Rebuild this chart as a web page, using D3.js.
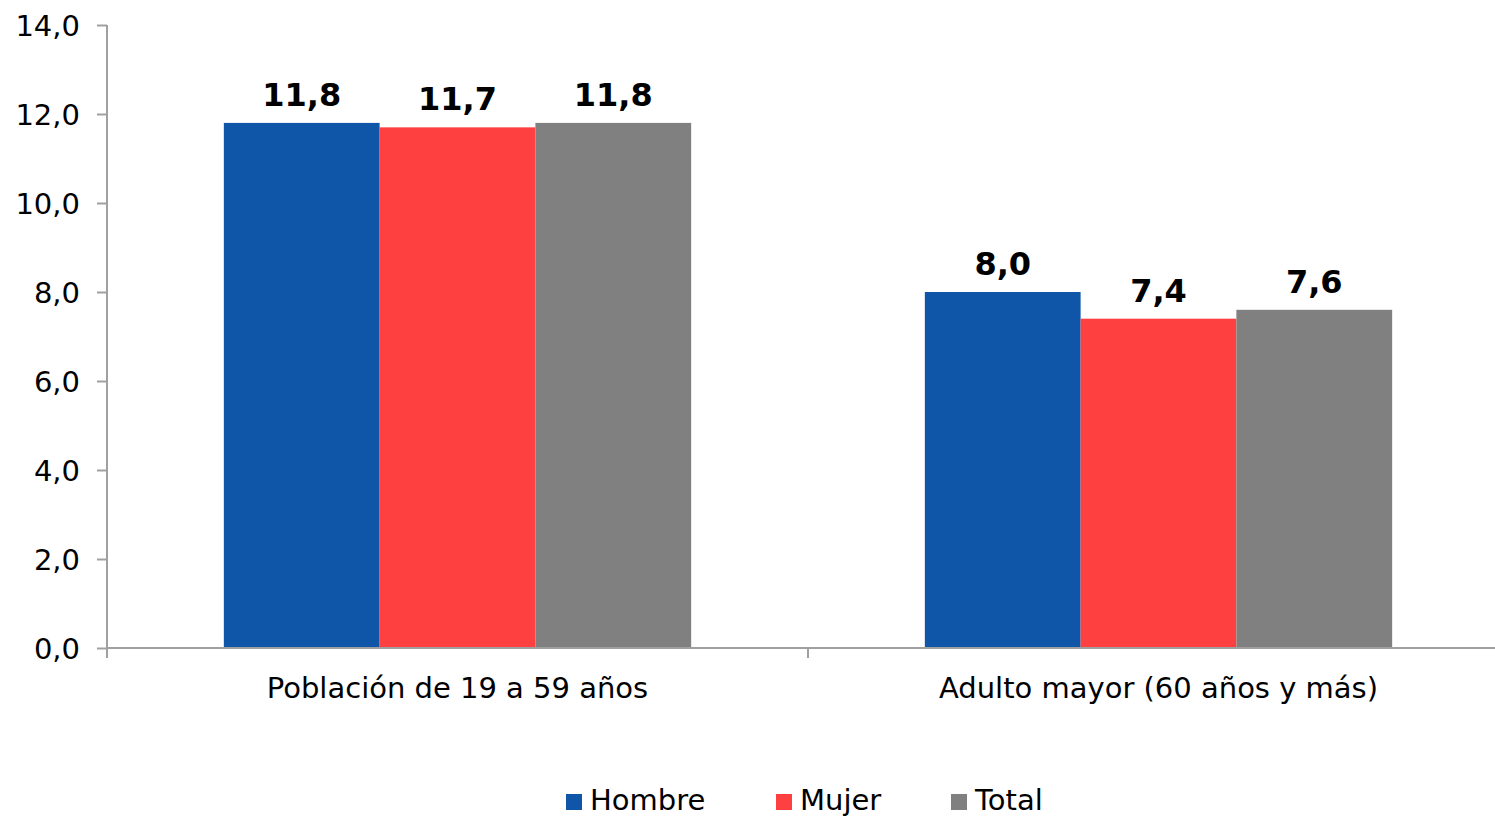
<!DOCTYPE html>
<html><head><meta charset="utf-8">
<script src="https://cdn.jsdelivr.net/npm/d3@7"></script>
<style>body{margin:0;background:#fff;overflow:hidden}svg{display:block}text{font-family:"DejaVu Sans",Verdana,sans-serif}</style>
</head><body><svg id="c" width="1495" height="817"></svg>
<script>
const categories = ["Población de 19 a 59 años", "Adulto mayor (60 años y más)"];
const seriesNames = ["Hombre", "Mujer", "Total"];
const hombre = [11.8, 8.0];
const mujer = [11.7, 7.4];
const total = [11.8, 7.6];
const yTicks = [0, 2, 4, 6, 8, 10, 12, 14];
const colors = ["#0F56A8", "#FF4040", "#808080"];

const series = [hombre, mujer, total];
const svg = d3.select("#c");
const W = 1495, H = 817;
const plotL = 107, plotR = 1509, plotT = 25, plotB = 648;
const fmt = v => v.toFixed(1).replace(".", ",");

const x0 = d3.scaleBand().domain(categories).range([plotL, plotR]);
const x1 = d3.scaleBand().domain(seriesNames).range([x0.bandwidth() / 6, x0.bandwidth() * 5 / 6]);
const y = d3.scaleLinear().domain([0, 14]).range([plotB, plotT]);

// bars
categories.forEach((c, ci) => {
  seriesNames.forEach((s, si) => {
    const v = series[si][ci];
    svg.append("rect")
      .attr("x", x0(c) + x1(s))
      .attr("y", y(v))
      .attr("width", x1.bandwidth())
      .attr("height", y(0) - y(v))
      .attr("fill", colors[si]);
    svg.append("text")
      .attr("x", x0(c) + x1(s) + x1.bandwidth() / 2)
      .attr("y", y(v) - 17)
      .attr("text-anchor", "middle")
      .attr("font-weight", "bold")
      .attr("font-size", 32)
      .text(fmt(v));
  });
});

// y axis
const yAxis = d3.axisLeft(y).tickValues(yTicks).tickFormat(fmt).tickSize(10).tickPadding(17);
const gy = svg.append("g").attr("transform", `translate(${plotL},0)`).call(yAxis);
gy.select(".domain").remove();
gy.selectAll(".tick line").attr("stroke", "#a0a0a0").attr("stroke-width", 2);
gy.selectAll(".tick text").attr("font-size", 29).attr("fill", "#000").attr("font-family", '"DejaVu Sans",Verdana,sans-serif').attr("dy", "0.35em");
svg.append("line").attr("x1", plotL).attr("x2", plotL).attr("y1", plotT).attr("y2", y(0) + 10).attr("stroke", "#a0a0a0").attr("stroke-width", 2);

// x axis
svg.append("line").attr("x1", plotL).attr("x2", plotR).attr("y1", y(0)).attr("y2", y(0)).attr("stroke", "#a0a0a0").attr("stroke-width", 2);
svg.append("line").attr("x1", x0(categories[1])).attr("x2", x0(categories[1])).attr("y1", y(0)).attr("y2", y(0) + 10).attr("stroke", "#a0a0a0").attr("stroke-width", 2);
categories.forEach(c => {
  svg.append("text").attr("x", x0(c) + x0.bandwidth() / 2).attr("y", y(0) + 50)
    .attr("text-anchor", "middle").attr("font-size", 29).text(c);
});

// legend
const legX = [566, 776, 951];
seriesNames.forEach((s, i) => {
  svg.append("rect").attr("x", legX[i]).attr("y", 794).attr("width", 16).attr("height", 16).attr("fill", colors[i]);
  svg.append("text").attr("x", legX[i] + 24).attr("y", 810).attr("font-size", 29).text(s);
});
</script></body></html>
